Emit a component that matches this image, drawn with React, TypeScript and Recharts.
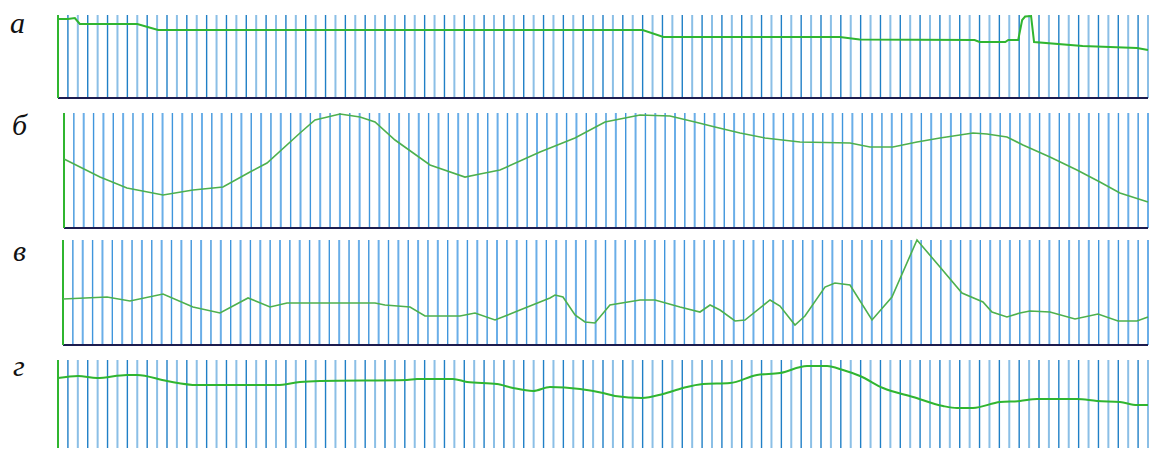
import React from 'react';
import { LineChart, Line, XAxis, YAxis, ReferenceLine } from 'recharts';

// Positions along the strip are in grid steps (0..110), heights in % of the strip.
const stepsA = [0, 1.0, 1.7, 2.2, 8.0, 10.1, 59.0, 61.1, 78.9, 80.9, 92.5, 93.0, 95.6, 95.9, 96.9, 97.3, 97.6, 98.2, 98.5, 103.4, 108.9, 110];
const valuesA = [95.2, 95.2, 96.4, 89.2, 89.2, 81.9, 81.9, 73.5, 73.5, 70.5, 69.9, 67.5, 67.5, 69.9, 69.9, 94.0, 98.2, 98.8, 67.5, 62.7, 60.2, 57.8];

const stepsB = [0, 3.65, 6.39, 10.05, 13.09, 16.13, 18.87, 20.6, 23.95, 25.47, 28.01, 30.04, 31.56, 33.59, 37.14, 40.69, 42.21, 44.24, 48.3, 51.85, 54.9, 58.45, 61.49, 64.03, 66.06, 68.6, 71.13, 74.68, 79.76, 81.79, 84.12, 86.56, 88.89, 92.24, 93.66, 95.69, 97.31, 100.05, 102.79, 105.12, 107.15, 110];
const valuesB = [60.0, 44.3, 34.8, 28.7, 33.0, 35.7, 48.7, 56.5, 82.6, 93.9, 99.1, 96.5, 92.2, 76.5, 54.8, 44.3, 47.0, 50.4, 66.1, 78.3, 92.2, 98.3, 97.4, 92.2, 87.8, 82.6, 78.3, 74.8, 73.9, 70.4, 70.4, 74.8, 78.3, 82.6, 81.7, 79.1, 72.2, 61.7, 50.4, 40.0, 30.4, 22.6];

const stepsC = [0, 4.46, 6.79, 10.14, 13.18, 15.92, 18.76, 20.99, 22.71, 31.63, 32.64, 35.18, 36.7, 40.25, 41.77, 43.8, 46.33, 49.37, 49.88, 50.69, 51.91, 52.92, 53.93, 55.45, 58.5, 60.02, 62.55, 64.58, 65.6, 66.61, 68.13, 69.14, 71.68, 72.69, 74.21, 75.22, 77.25, 78.26, 79.79, 82.02, 84.04, 86.58, 88.91, 91.14, 93.27, 94.18, 95.7, 97.02, 98.03, 100.06, 102.6, 104.93, 106.96, 108.88, 110];
const valuesC = [43.8, 45.7, 41.9, 48.6, 36.2, 30.5, 44.8, 36.2, 40.0, 40.0, 38.1, 36.2, 27.6, 27.6, 30.5, 23.8, 33.3, 44.8, 47.6, 45.7, 28.6, 21.9, 21.0, 38.1, 42.9, 42.9, 36.2, 31.4, 38.1, 33.3, 22.9, 23.8, 42.9, 37.1, 19.0, 27.6, 55.2, 59.0, 57.1, 23.8, 45.7, 100, 74.3, 49.5, 41.0, 31.4, 26.7, 30.5, 32.4, 31.4, 24.8, 29.5, 22.9, 22.9, 26.7];

const stepsD = [0, 2.02, 3.94, 6.96, 7.97, 11.0, 14.03, 22.1, 24.42, 26.44, 35.22, 36.23, 39.86, 41.28, 44.3, 45.92, 47.94, 49.65, 52.68, 55.0, 56.21, 58.94, 61.06, 63.07, 65.09, 67.82, 70.54, 72.86, 75.59, 77.61, 79.22, 80.94, 83.26, 86.29, 89.31, 90.73, 92.34, 95.07, 97.08, 98.8, 102.84, 104.85, 107.17, 108.89, 110];
const valuesD = [79.5, 81.8, 79.5, 83.0, 83.0, 76.1, 71.6, 71.6, 75.0, 76.1, 77.3, 78.4, 78.4, 75.0, 72.7, 68.2, 64.8, 69.3, 67.0, 62.5, 59.1, 56.8, 61.4, 68.2, 72.7, 73.9, 83.0, 85.2, 93.2, 93.2, 88.6, 81.8, 68.2, 58.0, 47.7, 45.5, 45.5, 52.3, 53.4, 55.7, 55.7, 53.4, 52.3, 48.9, 48.9];

const panelLabels = ['а', 'б', 'в', 'г'];
const gridSteps = Array.from({ length: 110 }, (_, i) => i + 1);

const toRows = (xs: number[], ys: number[]) => xs.map((x, i) => ({ x, y: ys[i] }));

interface PanelProps {
  label: string;
  rows: { x: number; y: number }[];
  left: number;
  top: number;
  bottom: number;
  stroke: string;
  width: number;
  gridDark: string;
  gridLight: string;
  smooth?: boolean;
  baseline?: boolean;
  labelTop: number;
  labelLeft: number;
}

const Panel: React.FC<PanelProps> = ({
  label, rows, left, top, bottom, stroke, width, gridDark, gridLight, smooth,
  baseline = true, labelTop, labelLeft,
}) => {
  const pad = 3;
  return (
    <>
      <div
        style={{
          position: 'absolute',
          left: labelLeft,
          top: labelTop,
          fontFamily: '"Liberation Serif", serif',
          fontStyle: 'italic',
          fontSize: 30,
          lineHeight: 1,
          color: '#111',
        }}
      >
        {label}
      </div>
      <div style={{ position: 'absolute', left: 0, top: top - pad }}>
        <LineChart
          width={1149}
          height={bottom - top + pad * 2}
          data={rows}
          margin={{ top: pad, bottom: pad, left, right: 1 }}
        >
          <XAxis type="number" dataKey="x" domain={[0, 110]} hide />
          <YAxis type="number" domain={[0, 100]} hide />
          {gridSteps.map((s) => (
            <ReferenceLine
              key={s}
              x={s}
              stroke={s % 2 === 0 ? gridLight : gridDark}
              strokeWidth={s % 2 === 0 ? 2 : 1.4}
            />
          ))}
          {baseline && <ReferenceLine y={0} stroke="#1c1c4e" strokeWidth={2} />}
          <ReferenceLine x={0} stroke="#2fb52f" strokeWidth={2} />
          <Line
            type={smooth ? 'monotone' : 'linear'}
            dataKey="y"
            stroke={stroke}
            strokeWidth={width}
            dot={false}
            isAnimationActive={false}
          />
        </LineChart>
      </div>
    </>
  );
};

export default function App() {
  return (
    <div style={{ position: 'absolute', left: 0, top: 0, width: 1149, height: 449, background: '#fff', overflow: 'hidden' }}>
      <Panel label={panelLabels[0]} rows={toRows(stepsA, valuesA)} left={58} top={15} bottom={98}
        stroke="#30b530" width={2} gridDark="#1f7fc6" gridLight="#8bbfe6" labelLeft={10} labelTop={8} />
      <Panel label={panelLabels[1]} rows={toRows(stepsB, valuesB)} left={64} top={113} bottom={228}
        stroke="#4db04d" width={1.6} gridDark="#3f95dc" gridLight="#6aaee8" labelLeft={12} labelTop={110} />
      <Panel label={panelLabels[2]} rows={toRows(stepsC, valuesC)} left={63} top={240} bottom={345}
        stroke="#4db04d" width={1.6} gridDark="#3f95dc" gridLight="#6aaee8" labelLeft={13} labelTop={236} />
      <Panel label={panelLabels[3]} rows={toRows(stepsD, valuesD)} left={58} top={360} bottom={448}
        stroke="#30b530" width={2} gridDark="#1f7fc6" gridLight="#8bbfe6" smooth baseline={false}
        labelLeft={13} labelTop={351} />
    </div>
  );
}
